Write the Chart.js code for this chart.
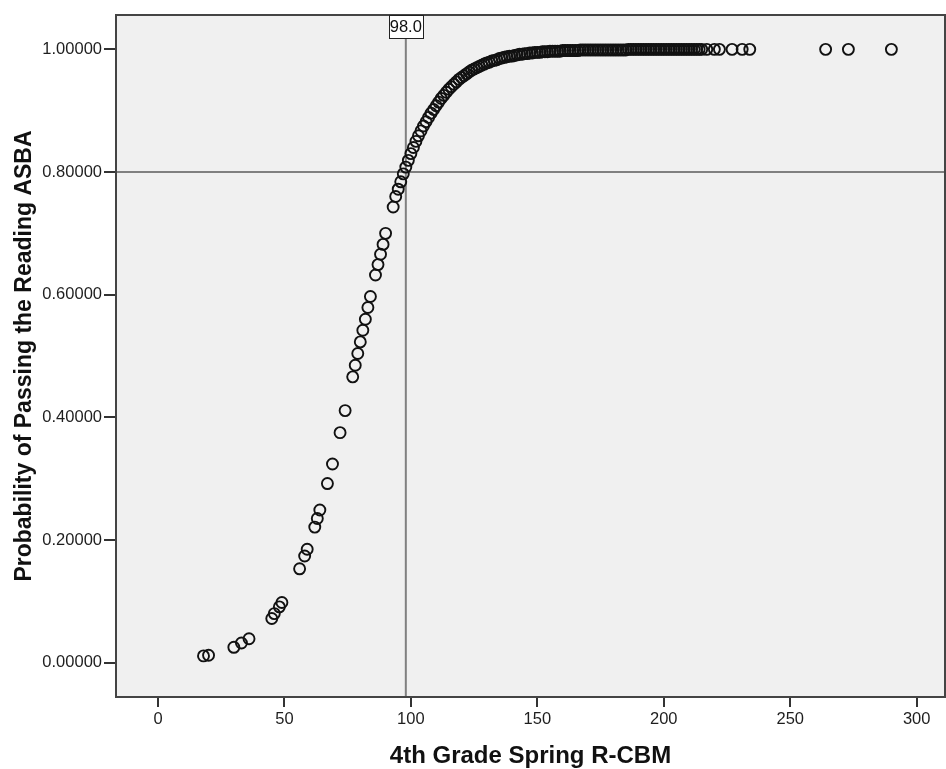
<!DOCTYPE html>
<html>
<head>
<meta charset="utf-8">
<script src="https://cdn.jsdelivr.net/npm/chart.js@4.4.1/dist/chart.umd.min.js"></script>
<style>
  html, body { margin: 0; padding: 0; background: #fff; }
  #wrap { width: 946px; height: 769px; }
</style>
</head>
<body>
<div id="wrap"><canvas id="scatter"></canvas></div>
<script>
// 4th grade spring R-CBM score vs. predicted probability of passing
const scores = [
  18, 20, 30, 33, 36, 45, 46, 48, 49, 56,
  58, 59, 62, 63, 64, 67, 69, 72, 74, 77,
  78, 79, 80, 81, 82, 83, 84, 86, 87, 88,
  89, 90, 93, 94, 95, 96, 97,
  98, 99, 100, 101, 102, 103, 104, 105, 106, 107,
  108, 109, 110, 111, 112, 113, 114, 115, 116, 117,
  118, 119, 120, 121, 122, 123, 124, 125, 126, 127,
  128, 129, 130, 131, 132, 133, 134, 135, 136, 137,
  138, 139, 140, 141, 142, 143, 144, 145, 146, 147,
  148, 149, 150, 151, 152, 153, 154, 155, 156, 157,
  158, 159, 160, 161, 162, 163, 164, 165, 166, 167,
  168, 169, 170, 171, 172, 173, 174, 175, 176, 177,
  178, 179, 180, 181, 182, 183, 184, 185, 186, 187,
  188, 189, 190, 191, 192, 193, 194, 195, 196, 197,
  198, 199, 200, 201, 202, 203, 204, 205, 206, 207,
  208, 209, 210, 211, 212, 213, 214, 215,
  217, 220, 222, 227, 231, 234, 264, 273, 290
];

const probabilities = [
  0.011, 0.012, 0.025, 0.032, 0.039, 0.072, 0.080, 0.091, 0.098, 0.153,
  0.174, 0.185, 0.221, 0.235, 0.249, 0.292, 0.324, 0.375, 0.411, 0.466,
  0.485, 0.504, 0.523, 0.542, 0.560, 0.579, 0.597, 0.632, 0.649, 0.666,
  0.682, 0.700, 0.743, 0.760, 0.772, 0.784, 0.797,
  0.808, 0.819, 0.830, 0.840, 0.850, 0.859, 0.867, 0.875, 0.882, 0.889,
  0.896, 0.902, 0.908, 0.914, 0.920, 0.925, 0.930, 0.935, 0.939, 0.943,
  0.947, 0.951, 0.954, 0.957, 0.960, 0.963, 0.966, 0.968, 0.970, 0.972,
  0.974, 0.976, 0.978, 0.979, 0.981, 0.982, 0.983, 0.985, 0.986, 0.987,
  0.988, 0.989, 0.989, 0.990, 0.991, 0.992, 0.992, 0.993, 0.993, 0.994,
  0.994, 0.995, 0.995, 0.995, 0.996, 0.996, 0.996, 0.997, 0.997, 0.997,
  0.997, 0.997, 0.998, 0.998, 0.998, 0.998, 0.998, 0.998, 0.998, 0.999,
  0.999, 0.999, 0.999, 0.999, 0.999, 0.999, 0.999, 0.999, 0.999, 0.999,
  0.999, 0.999, 0.999, 0.999, 0.999, 0.999, 0.999, 0.999, 1.000, 1.000,
  1.000, 1.000, 1.000, 1.000, 1.000, 1.000, 1.000, 1.000, 1.000, 1.000,
  1.000, 1.000, 1.000, 1.000, 1.000, 1.000, 1.000, 1.000, 1.000, 1.000,
  1.000, 1.000, 1.000, 1.000, 1.000, 1.000, 1.000, 1.000,
  1.000, 1.000, 1.000, 1.000, 1.000, 1.000, 1.000, 1.000, 1.000
];

const xTicks = [0, 50, 100, 150, 200, 250, 300];
const yTicks = [0, 0.2, 0.4, 0.6, 0.8, 1.0];

// reference lines
const cutScore = 98.0;
const targetProbability = 0.8;

const tickFont = { family: "Arial, 'Liberation Sans', sans-serif", size: 16.5 };
const yTitleFont = { family: "Arial, 'Liberation Sans', sans-serif", size: 23, weight: "bold", lineHeight: 1 };
const xTitleFont = { family: "Arial, 'Liberation Sans', sans-serif", size: 24, weight: "bold", lineHeight: 1 };

const framePlugin = {
  id: "frame",
  beforeDraw(chart) {
    const { ctx, chartArea: a } = chart;
    ctx.save();
    ctx.fillStyle = "#f0f0f0";
    ctx.fillRect(a.left, a.top, a.right - a.left, a.bottom - a.top);
    ctx.restore();
  },
  beforeDatasetsDraw(chart) {
    const { ctx, chartArea: a, scales } = chart;
    const x = scales.x.getPixelForValue(cutScore);
    const y = scales.y.getPixelForValue(targetProbability);
    ctx.save();
    ctx.strokeStyle = "#808080";
    ctx.lineWidth = 2;
    ctx.beginPath();
    ctx.moveTo(a.left, y);
    ctx.lineTo(a.right, y);
    ctx.moveTo(x, a.top + 23);
    ctx.lineTo(x, a.bottom);
    ctx.stroke();
    ctx.restore();
  },
  afterDraw(chart) {
    const { ctx, chartArea: a, scales } = chart;
    ctx.save();
    ctx.strokeStyle = "#444";
    ctx.lineWidth = 2;
    ctx.strokeRect(a.left, a.top, a.right - a.left, a.bottom - a.top);

    // label box for the cut score
    const x = scales.x.getPixelForValue(cutScore);
    const bx = Math.round(x - 17) + 0.5;
    const by = a.top + 0.5;
    ctx.fillStyle = "#fff";
    ctx.fillRect(bx, by, 34, 23);
    ctx.strokeStyle = "#222";
    ctx.lineWidth = 1;
    ctx.strokeRect(bx, by, 34, 23);
    ctx.fillStyle = "#111";
    ctx.font = "16.5px Arial, 'Liberation Sans', sans-serif";
    ctx.textAlign = "center";
    ctx.textBaseline = "middle";
    ctx.fillText(cutScore.toFixed(1), x, a.top + 12.5);
    ctx.restore();
  }
};

new Chart(document.getElementById("scatter"), {
  type: "scatter",
  data: {
    datasets: [
      {
        label: "Probability",
        data: scores.map((s, i) => ({ x: s, y: probabilities[i] })),
        backgroundColor: "rgba(0,0,0,0)",
        borderColor: "#111",
        borderWidth: 1.9,
        pointRadius: 5.5,
        pointHoverRadius: 5.5,
      },
    ],
  },
  options: {
    responsive: true,
    maintainAspectRatio: false,
    animation: false,
    layout: { autoPadding: false, padding: { top: 15, right: 1, left: 0, bottom: 0 } },
    plugins: {
      legend: { display: false },
      tooltip: { enabled: false },
    },
    scales: {
      x: {
        type: "linear",
        min: -16.6,
        max: 311.2,
        afterBuildTicks: (scale) => { scale.ticks = xTicks.map((v) => ({ value: v })); },
        afterFit: (scale) => { scale.height = 72; },
        border: { display: false },
        grid: { drawOnChartArea: false, drawTicks: true, tickLength: 10, color: "#333", lineWidth: 2 },
        ticks: { font: tickFont, color: "#1e1e1e", padding: 3, maxRotation: 0 },
        title: {
          display: true,
          text: "4th Grade Spring R-CBM",
          font: xTitleFont,
          color: "#111",
          padding: { top: 0, bottom: 1 },
        },
      },
      y: {
        type: "linear",
        min: -0.056,
        max: 1.056,
        afterBuildTicks: (scale) => { scale.ticks = yTicks.map((v) => ({ value: v })); },
        afterFit: (scale) => { scale.width = 116; },
        border: { display: false },
        grid: { drawOnChartArea: false, drawTicks: true, tickLength: 12, color: "#333", lineWidth: 2 },
        ticks: {
          font: tickFont,
          color: "#1e1e1e",
          padding: 2,
          callback: (value) => Number(value).toFixed(5),
        },
        title: {
          display: true,
          text: "Probability of Passing the Reading ASBA",
          font: yTitleFont,
          color: "#111",
          padding: { top: 13, bottom: 0 },
        },
      },
    },
  },
  plugins: [framePlugin],
});
</script>
</body>
</html>
